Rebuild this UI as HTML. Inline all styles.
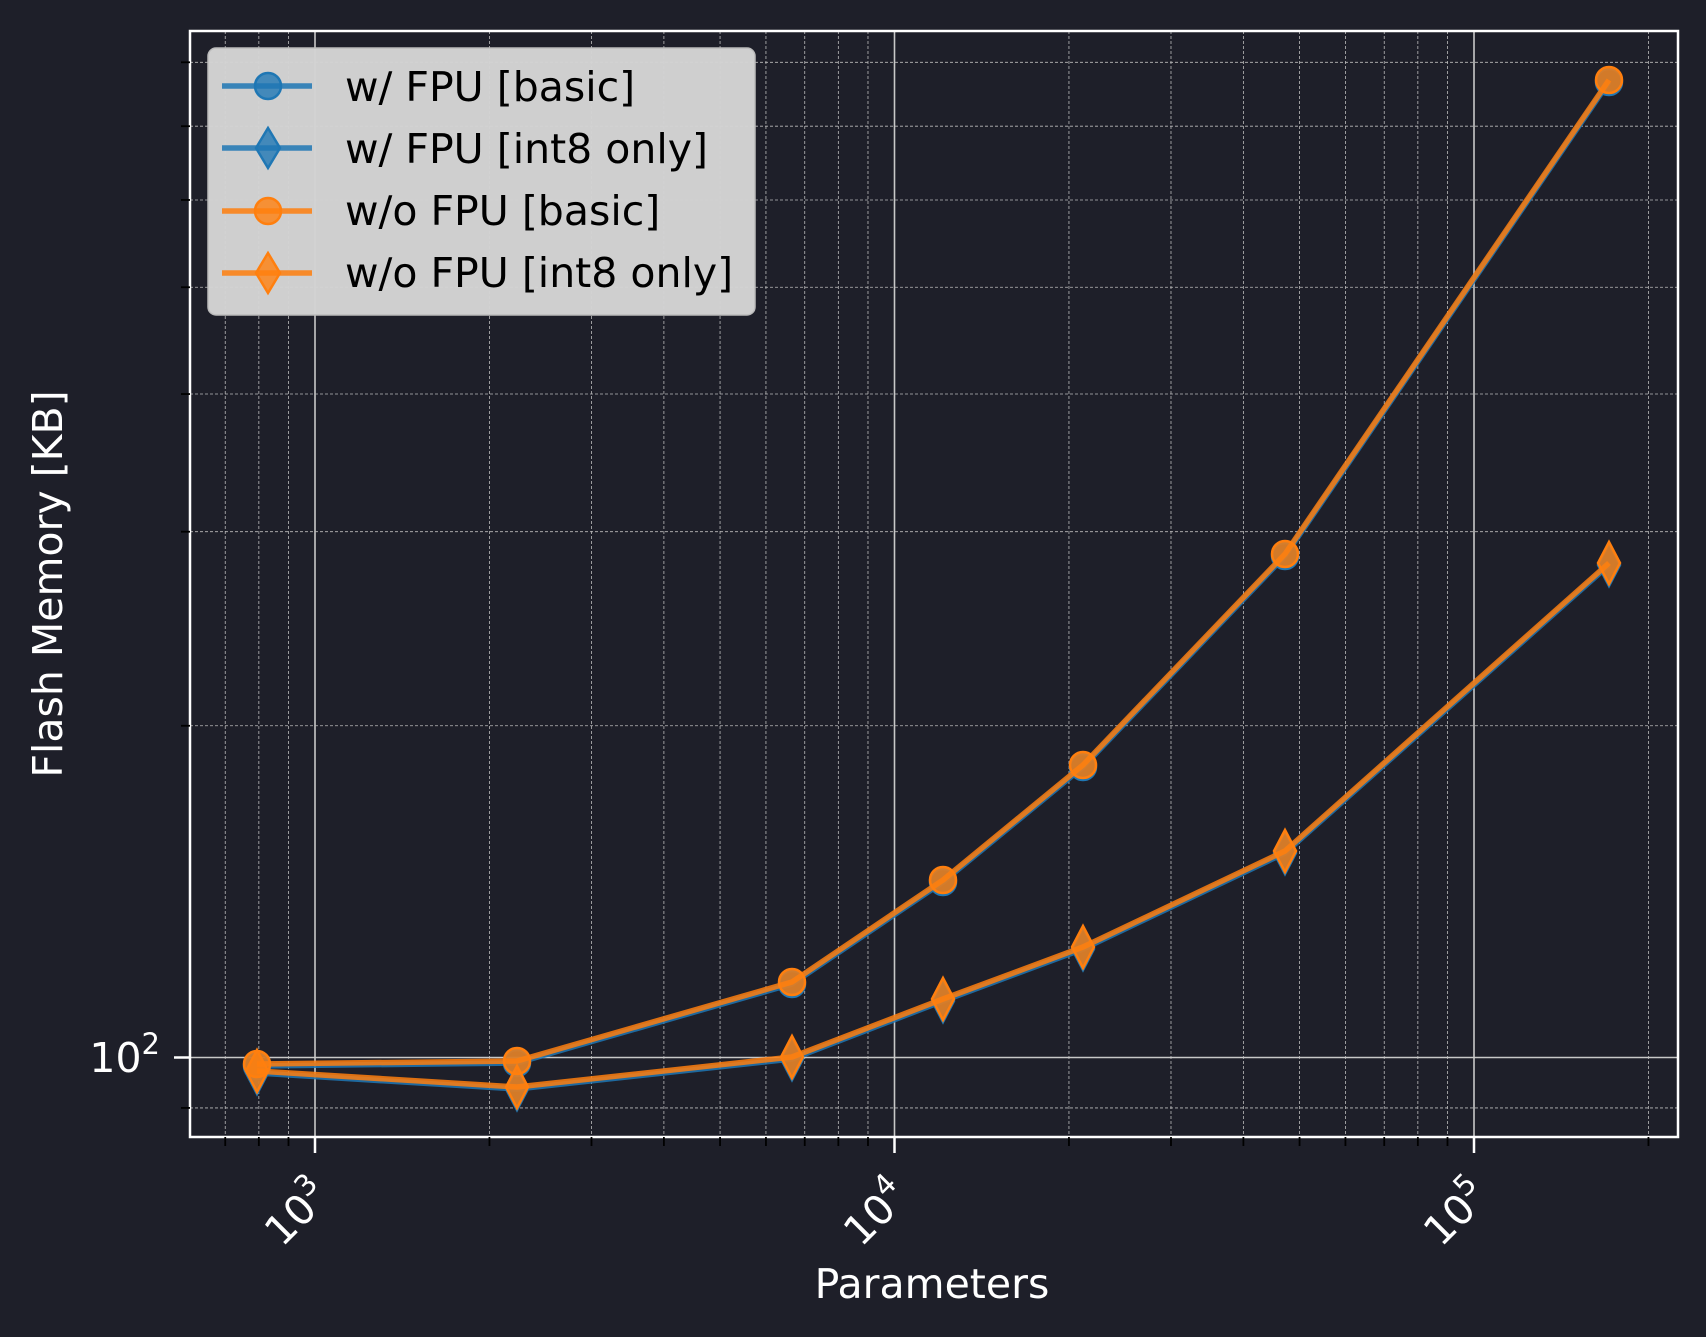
<!DOCTYPE html>
<html><head><meta charset="utf-8"><style>
html,body{margin:0;padding:0;background:#1e1f29;}
svg{display:block;font-family:"DejaVu Sans","Liberation Sans",sans-serif;}
</style></head><body>
<svg id="s" width="1706" height="1337" viewBox="0 0 1706 1337" xmlns="http://www.w3.org/2000/svg">
<rect width="1706" height="1337" fill="#1e1f29"/>
<g id="grid"></g>
<g id="data"></g>
<rect x="190" y="31" width="1488" height="1106" fill="none" stroke="#ffffff" stroke-width="2.5"/>
<g id="ticks"></g>
<text x="160" y="1072" fill="#fff" font-size="41" text-anchor="end">10<tspan dy="-18" font-size="29">2</tspan></text>
<g fill="#fff" font-size="41">
<text transform="translate(332,1198) rotate(-45)" text-anchor="end">10<tspan dy="-18" font-size="29">3</tspan></text>
<text transform="translate(911,1198) rotate(-45)" text-anchor="end">10<tspan dy="-18" font-size="29">4</tspan></text>
<text transform="translate(1491,1198) rotate(-45)" text-anchor="end">10<tspan dy="-18" font-size="29">5</tspan></text>
</g>
<text x="932" y="1298" fill="#fff" font-size="41" text-anchor="middle">Parameters</text>
<text transform="translate(62,584) rotate(-90)" fill="#fff" font-size="41" text-anchor="middle">Flash Memory [KB]</text>
<g>
<rect x="208" y="48" width="547" height="267" rx="8" fill="#d3d3d3" fill-opacity="0.98" stroke="#bbb" stroke-width="1.5"/>
<line x1="222" y1="86" x2="312" y2="86" stroke="#1f77b4" stroke-width="5.5" opacity="0.85"/>
<circle cx="268" cy="86" r="13" fill="#1f77b4" fill-opacity="0.8" stroke="#1f77b4" stroke-width="2.5"/>
<line x1="222" y1="148" x2="312" y2="148" stroke="#1f77b4" stroke-width="5.5" opacity="0.85"/>
<path d="M268,128 L280,148 L268,168 L256,148Z" fill="#1f77b4" fill-opacity="0.8" stroke="#1f77b4" stroke-width="2.5"/>
<line x1="222" y1="211" x2="312" y2="211" stroke="#ff7f0e" stroke-width="5.5" opacity="0.85"/>
<circle cx="268" cy="211" r="13" fill="#ff7f0e" fill-opacity="0.8" stroke="#ff7f0e" stroke-width="2.5"/>
<line x1="222" y1="273" x2="312" y2="273" stroke="#ff7f0e" stroke-width="5.5" opacity="0.85"/>
<path d="M268,253 L280,273 L268,293 L256,273Z" fill="#ff7f0e" fill-opacity="0.8" stroke="#ff7f0e" stroke-width="2.5"/>
<g fill="#000" font-size="41">
<text x="345" y="101">w/ FPU [basic]</text>
<text x="345" y="163">w/ FPU [int8 only]</text>
<text x="345" y="225">w/o FPU [basic]</text>
<text x="345" y="287">w/o FPU [int8 only]</text>
</g>
</g>
<script>
(function(){
var NS="http://www.w3.org/2000/svg";
function el(p,n,a){var e=document.createElementNS(NS,n);for(var k in a)e.setAttribute(k,a[k]);p.appendChild(e);return e;}
var L=190,R=1678,T=31,B=1137;
function X(v){return 894.5+(Math.log10(v)-4)*579.5;}
function Y(v){return 1057.5-(Math.log10(v)-2)*1102;}
var g=document.getElementById("grid"),t=document.getElementById("ticks");
for(var d=2;d<=5;d++){for(var m=1;m<=9;m++){var v=m*Math.pow(10,d);var x=X(v);if(x<=L||x>=R)continue;
 if(m==1){el(g,"line",{x1:x,y1:T,x2:x,y2:B,stroke:"#c8c8c8","stroke-width":1.6});el(t,"line",{x1:x,y1:B,x2:x,y2:B+16,stroke:"#fff","stroke-width":2.5});}
 else{el(g,"line",{x1:x,y1:T,x2:x,y2:B,stroke:"#bbb","stroke-width":0.8,"stroke-dasharray":"3,2"});el(t,"line",{x1:x,y1:B,x2:x,y2:B+9,stroke:"#000","stroke-width":1.8});}}}
[90,200,300,400,500,600,700,800].forEach(function(v){var y=Y(v);el(g,"line",{x1:L,y1:y,x2:R,y2:y,stroke:"#bbb","stroke-width":0.8,"stroke-dasharray":"3,2"});el(t,"line",{x1:L,y1:y,x2:L-9,y2:y,stroke:"#000","stroke-width":1.8});});
var y0=Y(100);el(g,"line",{x1:L,y1:y0,x2:R,y2:y0,stroke:"#c8c8c8","stroke-width":1.6});el(t,"line",{x1:L,y1:y0,x2:L-16,y2:y0,stroke:"#fff","stroke-width":2.5});
var dg=document.getElementById("data");
var basic=[[257,1064],[517,1061],[792,982],[943,880],[1083,765],[1285,554],[1609,80]];
var int8=[[257,1071],[517,1087],[792,1057],[943,999],[1083,947],[1285,851],[1609,563]];
function pts(a,dy){return a.map(function(p){return p[0]+","+(p[1]+dy);}).join(" ");}
function series(a,col,dy,shape){
 el(dg,"polyline",{points:pts(a,dy),fill:"none",stroke:col,"stroke-width":5.5,"stroke-opacity":0.85,"stroke-linejoin":"round"});
 a.forEach(function(p){var x=p[0],y=p[1]+dy;
  if(shape=="c")el(dg,"circle",{cx:x,cy:y,r:13,fill:col,"fill-opacity":0.8,stroke:col,"stroke-width":2.5});
  else el(dg,"path",{d:"M"+x+","+(y-21)+" L"+(x+11)+","+y+" L"+x+","+(y+21)+" L"+(x-11)+","+y+"Z",fill:col,"fill-opacity":0.8,stroke:col,"stroke-width":2.5});});
}
series(basic,"#1f77b4",2,"c");series(int8,"#1f77b4",2,"d");
series(basic,"#ff7f0e",0,"c");series(int8,"#ff7f0e",0,"d");
})();
</script>
</svg>
</body></html>
